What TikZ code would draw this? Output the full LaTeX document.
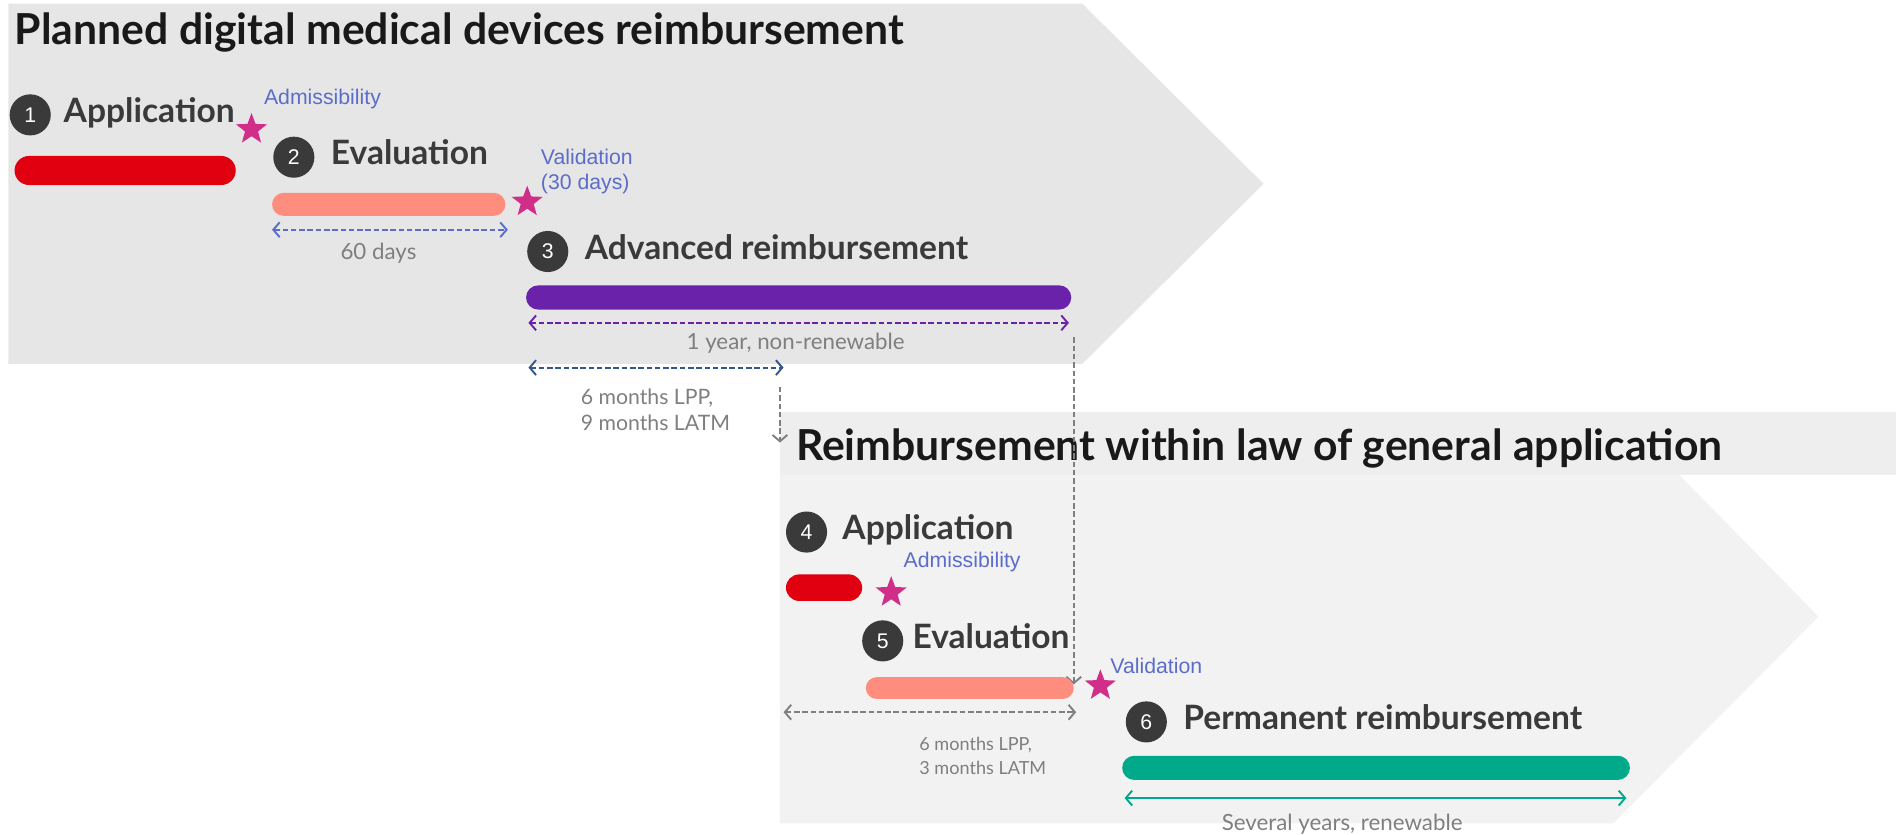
\documentclass[tikz,border=0pt]{standalone}
\usepackage{fontspec}
\setmainfont{Lato}
\newfontfamily\arialfont{Liberation Sans}
\usetikzlibrary{positioning,shapes.geometric,shapes.misc,arrows.meta}
\definecolor{chevtop}{HTML}{E6E6E6}
\definecolor{chevband}{HTML}{EEEEEE}
\definecolor{chevlow}{HTML}{F2F2F2}
\definecolor{appred}{HTML}{E1000F}
\definecolor{evalpink}{HTML}{FF8D7E}
\definecolor{advpurple}{HTML}{6A22AA}
\definecolor{permgreen}{HTML}{00A98A}
\definecolor{starpink}{HTML}{D12E8A}
\definecolor{noteblue}{HTML}{5B6DC8}
\definecolor{spanblue}{HTML}{33568F}
\definecolor{spangray}{HTML}{7F7F7F}
\definecolor{stepdark}{HTML}{3A3A3A}
\begin{document}
\begin{tikzpicture}[x=0.02cm,y=-0.02cm,
		num/.style={circle,fill=stepdark,text=white,minimum size=0.68cm,inner sep=0pt,font=\arialfont\fontsize{10}{10}\selectfont},
		steptext/.style={inner sep=0pt,text=stepdark,text height=0.72em,text depth=0pt,font=\bfseries\fontsize{15.8}{16}\selectfont},
		bar/.style={rounded rectangle,inner sep=0pt,minimum height=0.4cm},
		milestone/.style={star,star points=5,star point ratio=2.4,fill=starpink,minimum size=0.54cm,inner sep=0pt},
		note/.style={anchor=west,align=left,inner sep=0pt,text=noteblue,font=\arialfont\fontsize{10}{12}\selectfont},
		tip/.style={-{Straight Barb[length=3pt,width=7pt]}},
		span/.style={line width=0.9pt,dash pattern=on 2.6pt off 1.3pt,{Straight Barb[length=3pt,width=7pt]}-{Straight Barb[length=3pt,width=7pt]}},
		spantext/.style={inner sep=0pt,text=spangray,align=left,font=\fontsize{10.5}{12.5}\selectfont},
		title/.style={anchor=base west,inner sep=0pt,text=black!90,font=\bfseries\fontsize{20.1}{20}\selectfont}]
	\useasboundingbox (0,0) rectangle (1568,690);
	% chevrons
	\fill[chevtop] (7,3) -- (895,3) -- (1045,152) -- (895,301) -- (7,301) -- cycle;
	\fill[chevband] (645,341) rectangle (1568,393);
	\fill[chevlow] (645,393) -- (1389,393) -- (1504,510) -- (1334,681) -- (645,681) -- cycle;
	\node[title] (t1) at (12,37) {Planned digital medical devices reimbursement};
	\node[title] (t2) at (658,381) {Reimbursement within law of general application};

	% planned reimbursement
	\node[num] (n1) at (25,95) {1};
	\node[steptext,right=0.2cm of n1] (l1) {Application};
	\node[bar,fill=appred,minimum width=3.66cm,minimum height=0.48cm] (b1) at (103.5,141) {};
	\node[milestone] (s1) at (208,107) {};
	\node[note] (adm1) at (218,82) {Admissibility};

	\node[num] (n2) at (243,130) {2};
	\node[steptext,right=0.26cm of n2] (l2) {Evaluation};
	\node[bar,fill=evalpink,minimum width=3.86cm,minimum height=0.38cm] (b2) at (321.5,169) {};
	\node[milestone] (s2) at (436,167) {};
	\node[note] (val1) at (447,142) {Validation\\(30 days)};
	\coordinate (e2a) at (225,190);
	\coordinate (e2b) at (420,190);
	\draw[span,noteblue] (e2a) -- (e2b);
	\node[spantext] (d60) at (313,209) {60 days};

	\node[num] (n3) at (453,208) {3};
	\node[steptext,right=0.26cm of n3] (l3) {Advanced reimbursement};
	\node[bar,fill=advpurple,minimum width=9.02cm] (b3) at (660.5,246) {};
	\coordinate (e3a) at (437,267);
	\coordinate (e3b) at (884,267);
	\draw[span,advpurple] (e3a) -- (e3b);
	\node[spantext] (d1y) at (658,284) {1 year, non-renewable};
	\coordinate (e4a) at (437,304);
	\coordinate (e4b) at (648,304);
	\draw[span,spanblue] (e4a) -- (e4b);
	\node[spantext,anchor=west,font=\fontsize{10}{12}\selectfont] (d6m) at (480,339) {6 months LPP,\\9 months LATM};

	% links to the common law
	\coordinate (v1a) at (645,320);
	\coordinate (v1b) at (645,366);
	\draw[span,spangray,tip] (v1a) -- (v1b);
	\coordinate (v2a) at (888,279);
	\coordinate (v2b) at (888,566);
	\draw[span,spangray,tip] (v2a) -- (v2b);

	% law of general application
	\node[num] (n4) at (667,440) {4};
	\node[steptext,right=0.24cm of n4] (l4) {Application};
	\node[bar,fill=appred,minimum width=1.26cm,minimum height=0.44cm] (b4) at (681.5,486) {};
	\node[milestone] (s3) at (737,490) {};
	\node[note] (adm2) at (747,465) {Admissibility};

	\node[num] (n5) at (730,530) {5};
	\node[steptext,right=0.14cm of n5] (l5) {Evaluation};
	\node[bar,fill=evalpink,minimum width=3.44cm,minimum height=0.36cm] (b5) at (802,569) {};
	\node[milestone] (s4) at (910,567) {};
	\node[note] (val2) at (918,551) {Validation};
	\coordinate (e5a) at (648,589);
	\coordinate (e5b) at (890,589);
	\draw[span,spangray] (e5a) -- (e5b);
	\node[spantext,anchor=west,font=\fontsize{8.5}{11}\selectfont] (d6m2) at (760,625) {6 months LPP,\\3 months LATM};

	\node[num] (n6) at (948,597) {6};
	\node[steptext,right=0.26cm of n6] (l6) {Permanent reimbursement};
	\node[bar,fill=permgreen,minimum width=8.4cm] (b6) at (1138,635) {};
	\coordinate (e6a) at (930,660);
	\coordinate (e6b) at (1345,660);
	\draw[span,permgreen,solid] (e6a) -- (e6b);
	\node[spantext] (dsev) at (1110,682) {Several years, renewable};
\end{tikzpicture}
\end{document}
